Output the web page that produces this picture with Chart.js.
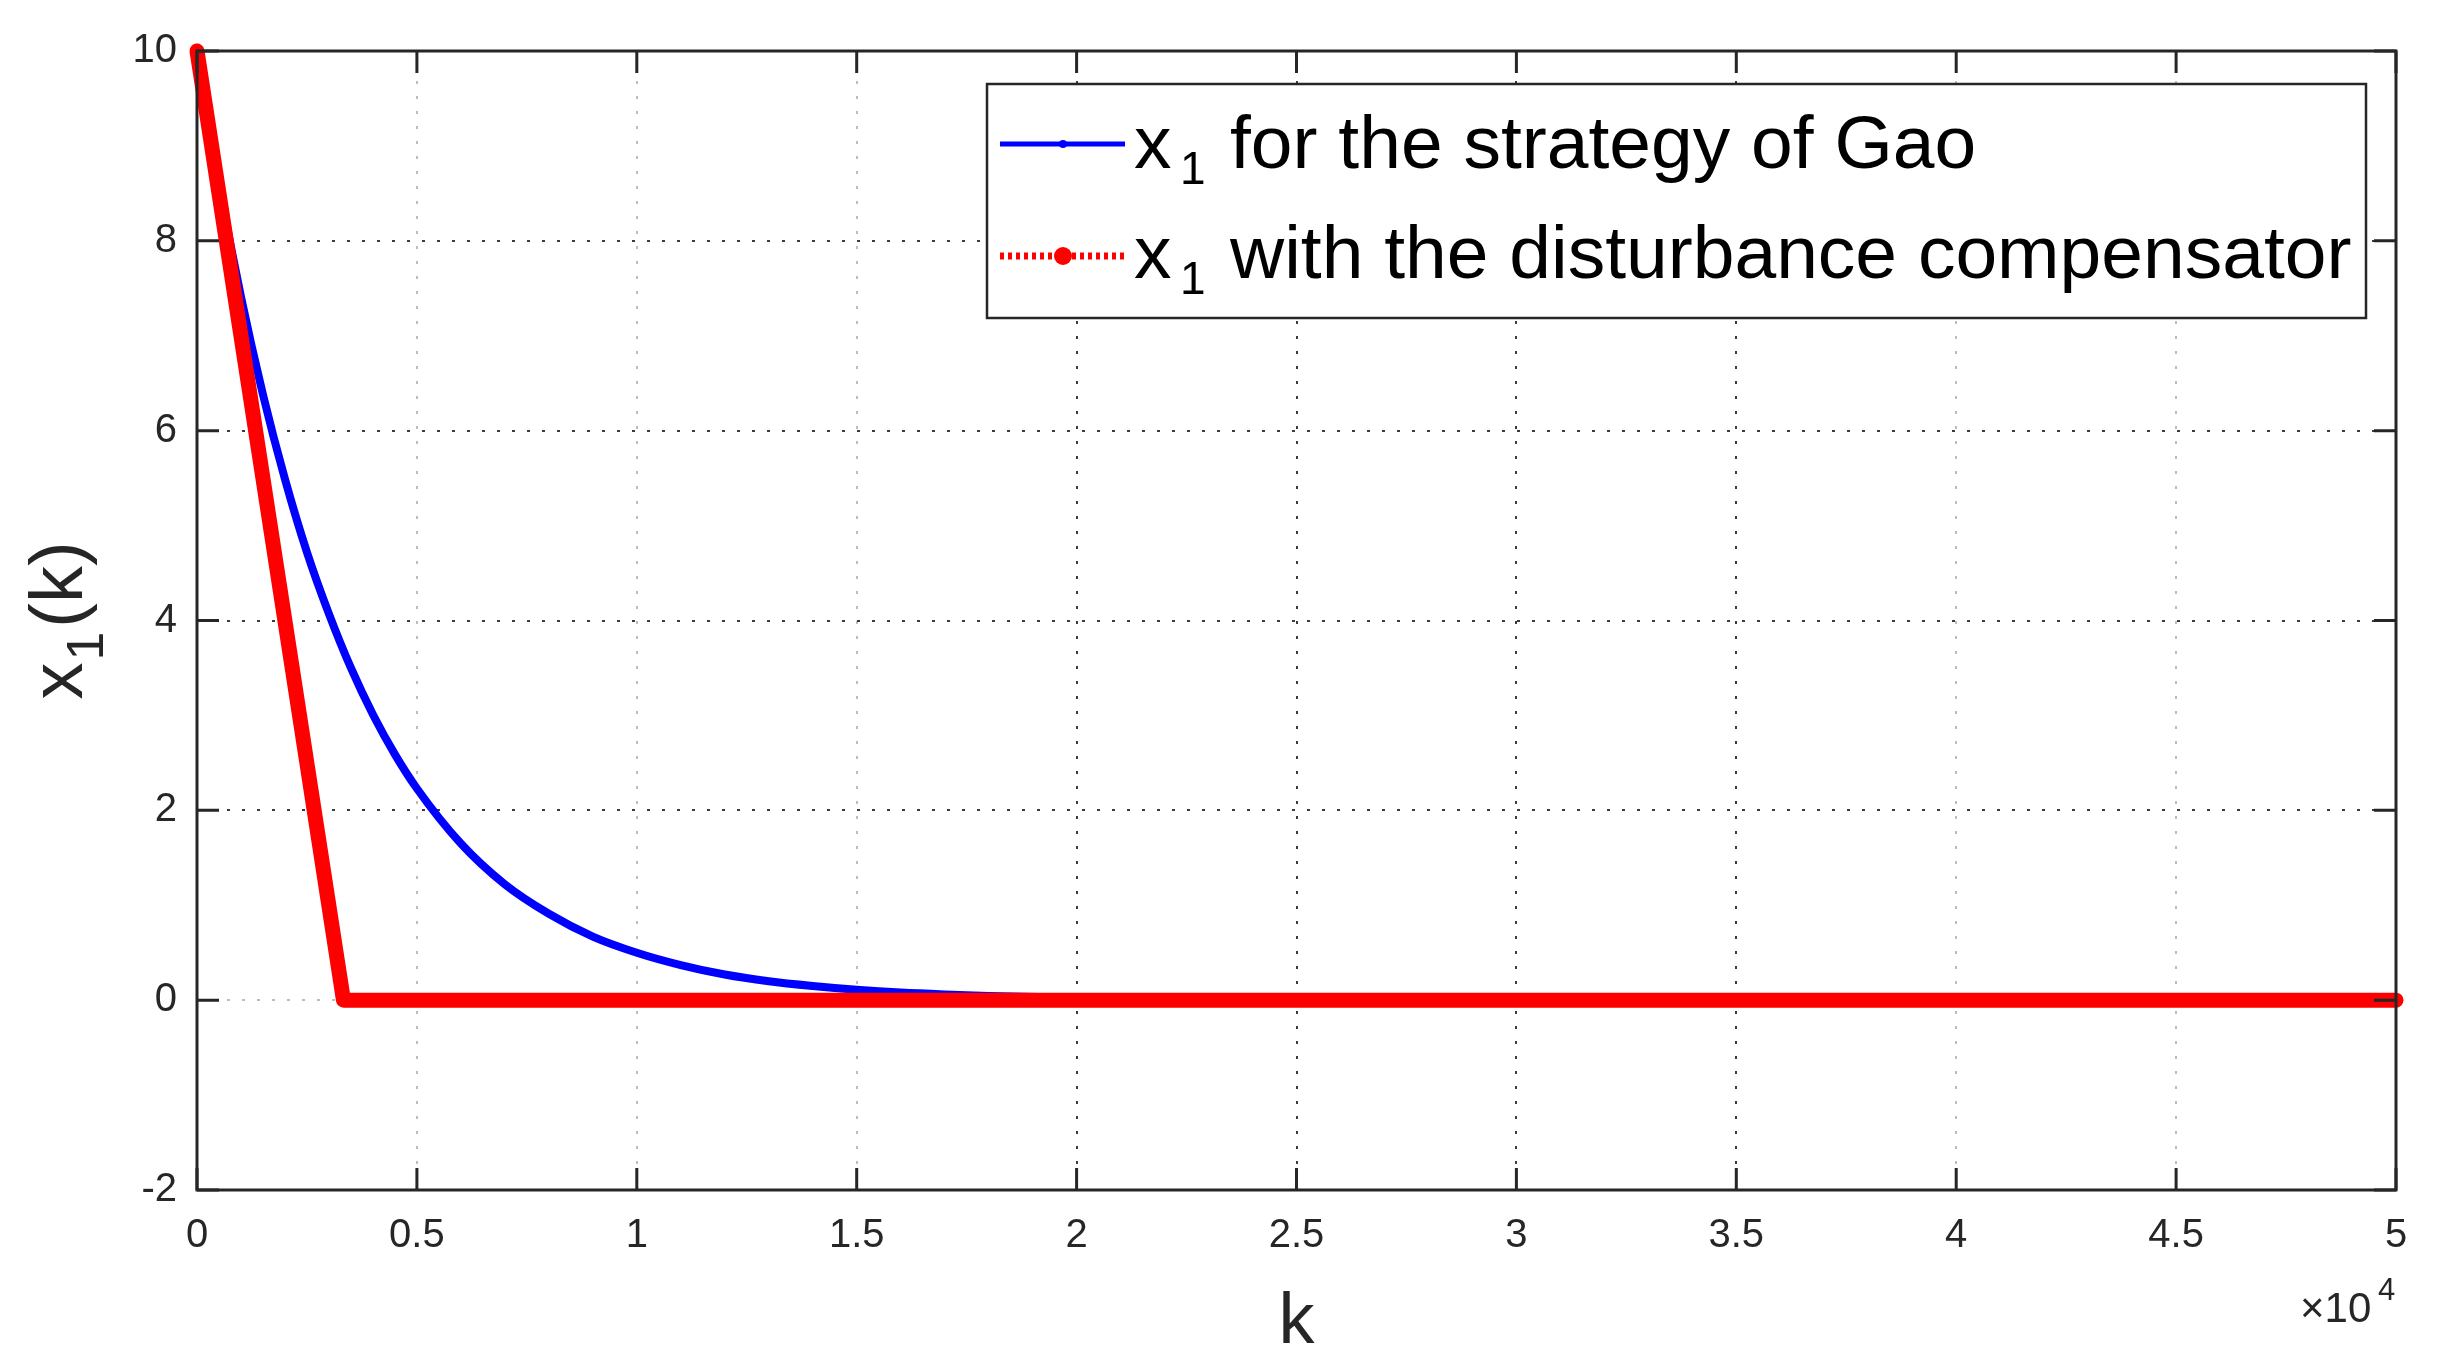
<!DOCTYPE html>
<html>
<head>
<meta charset="utf-8">
<script src="https://cdn.jsdelivr.net/npm/chart.js@4.4.1/dist/chart.umd.min.js"></script>
<style>
  body { margin: 0; background: #fff; }
  #wrap { width: 2444px; height: 1361px; }
</style>
</head>
<body>
<div id="wrap"><canvas id="chart"></canvas></div>
<script>
// k samples and x1 values
var kGao = [0, 500, 1000, 1500, 2000, 2500, 3000, 3500, 4000, 4500, 5000, 6000, 7000, 8000, 9000,
            10000, 11000, 12000, 13000, 14000, 15000, 16000, 17000, 18000, 20000, 25000, 30000, 40000, 50000];
var x1Gao = [10, 8.61, 7.41, 6.38, 5.49, 4.72, 4.07, 3.5, 3.01, 2.59, 2.23, 1.65, 1.22, 0.91, 0.67,
             0.5, 0.37, 0.27, 0.2, 0.15, 0.11, 0.08, 0.06, 0.045, 0.025, 0.005, 0, 0, 0];
var kComp = [0, 3330, 50000];
var x1Comp = [10, 0, 0];

var xTicks = [0, 5000, 10000, 15000, 20000, 25000, 30000, 35000, 40000, 45000, 50000];
var xTickLabels = ['0', '0.5', '1', '1.5', '2', '2.5', '3', '3.5', '4', '4.5', '5'];
var yTicks = [-2, 0, 2, 4, 6, 8, 10];

var FONT = '"Liberation Sans", Arial, sans-serif';
var AX = '#262626';

function pts(xs, ys) {
    return xs.map((x, i) => ({x: x, y: ys[i]}));
}

var frame = {
    id: 'frame',
    afterDatasetsDraw(chart) {
        var ctx = chart.ctx, a = chart.chartArea;
        var sx = chart.scales.x, sy = chart.scales.y;
        ctx.save();
        ctx.strokeStyle = AX;
        ctx.lineWidth = 3;
        ctx.strokeRect(a.left, a.top, a.right - a.left, a.bottom - a.top);
        // inward ticks on all four sides
        var tl = 22;
        ctx.beginPath();
        xTicks.forEach(v => {
            var px = sx.getPixelForValue(v);
            ctx.moveTo(px, a.bottom); ctx.lineTo(px, a.bottom - tl);
            ctx.moveTo(px, a.top); ctx.lineTo(px, a.top + tl);
        });
        yTicks.forEach(v => {
            var py = sy.getPixelForValue(v);
            ctx.moveTo(a.left, py); ctx.lineTo(a.left + tl, py);
            ctx.moveTo(a.right, py); ctx.lineTo(a.right - tl, py);
        });
        ctx.stroke();

        // legend
        var lx = 987, ly = 84, lw = 1379, lh = 234;
        ctx.fillStyle = '#fff';
        ctx.fillRect(lx, ly, lw, lh);
        ctx.lineWidth = 2.5;
        ctx.strokeRect(lx, ly, lw, lh);

        ctx.lineCap = 'butt';
        ctx.strokeStyle = '#0000ff';
        ctx.lineWidth = 5;
        ctx.beginPath(); ctx.moveTo(1000, 144); ctx.lineTo(1125, 144); ctx.stroke();
        ctx.fillStyle = '#0000ff';
        ctx.beginPath(); ctx.arc(1063, 144, 4, 0, Math.PI * 2); ctx.fill();

        ctx.strokeStyle = '#ff0000';
        ctx.lineWidth = 7;
        ctx.setLineDash([4, 4]);
        ctx.beginPath(); ctx.moveTo(1000, 256); ctx.lineTo(1125, 256); ctx.stroke();
        ctx.setLineDash([]);
        ctx.fillStyle = '#ff0000';
        ctx.beginPath(); ctx.arc(1063, 256, 9, 0, Math.PI * 2); ctx.fill();

        ctx.fillStyle = '#000';
        ctx.textBaseline = 'alphabetic';
        ctx.textAlign = 'left';
        [['for the strategy of Gao', 168], ['with the disturbance compensator', 278]].forEach(r => {
            ctx.font = '75px ' + FONT;
            ctx.fillText('x', 1134, r[1]);
            ctx.font = '46px ' + FONT;
            ctx.fillText('1', 1180, r[1] + 16);
            ctx.font = '75px ' + FONT;
            ctx.fillText(r[0], 1230, r[1]);
        });
        ctx.restore();
    },
    afterDraw(chart) {
        var ctx = chart.ctx, a = chart.chartArea;
        ctx.save();
        ctx.fillStyle = AX;
        ctx.textBaseline = 'alphabetic';
        // x title
        ctx.font = '72px ' + FONT;
        ctx.textAlign = 'center';
        ctx.fillText('k', (a.left + a.right) / 2, 1343);
        // exponent label
        ctx.textAlign = 'left';
        ctx.font = '42px ' + FONT;
        ctx.fillText('\u00d710', 2300, 1322);
        ctx.font = '31px ' + FONT;
        ctx.fillText('4', 2378, 1300);
        // y title
        ctx.translate(82, (a.top + a.bottom) / 2);
        ctx.rotate(-Math.PI / 2);
        ctx.font = '74px ' + FONT;
        var w1 = ctx.measureText('x').width;
        var w3 = ctx.measureText('(k)').width;
        ctx.font = '52px ' + FONT;
        var w2 = ctx.measureText('1').width;
        var x0 = -(w1 + w2 + 6 + w3) / 2;
        ctx.font = '74px ' + FONT;
        ctx.fillText('x', x0, 0);
        ctx.font = '52px ' + FONT;
        ctx.fillText('1', x0 + w1 + 2, 21);
        ctx.font = '74px ' + FONT;
        ctx.fillText('(k)', x0 + w1 + w2 + 6, 0);
        ctx.restore();
    }
};

function gridColX(c) {
    var v = c.tick ? c.tick.value : 0;
    return (v >= 20000 && v <= 35000) ? 'rgba(38,38,38,0.9)' : 'rgba(38,38,38,0.3)';
}
function gridColY(c) {
    var v = c.tick ? c.tick.value : 0;
    return (v >= 2 && v <= 8) ? 'rgba(38,38,38,0.9)' : 'rgba(38,38,38,0.3)';
}

new Chart(document.getElementById('chart'), {
    type: 'line',
    data: {
        datasets: [{
            label: 'x1 for the strategy of Gao',
            data: pts(kGao, x1Gao),
            borderColor: '#0000ff',
            borderWidth: 8,
            pointRadius: 0,
            cubicInterpolationMode: 'monotone',
            order: 2,
            clip: false
        }, {
            label: 'x1 with the disturbance compensator',
            data: pts(kComp, x1Comp),
            borderColor: '#ff0000',
            borderWidth: 15,
            borderCapStyle: 'round',
            borderJoinStyle: 'round',
            pointRadius: 0,
            order: 1,
            clip: false
        }]
    },
    options: {
        responsive: true,
        maintainAspectRatio: false,
        animation: false,
        layout: { padding: { left: 0, right: 48, top: 51, bottom: 0 } },
        plugins: { legend: { display: false }, tooltip: { enabled: false } },
        scales: {
            x: {
                type: 'linear',
                min: 0, max: 50000,
                afterBuildTicks: s => { s.ticks = xTicks.map(v => ({value: v})); },
                afterFit: s => { s.height = 171; },
                border: { display: false, dash: [3, 12] },
                grid: { color: gridColX, lineWidth: 2, drawTicks: false },
                ticks: {
                    padding: 22,
                    color: AX,
                    font: { family: FONT, size: 40 },
                    callback: (v) => xTickLabels[xTicks.indexOf(v)]
                }
            },
            y: {
                min: -2, max: 10,
                afterBuildTicks: s => { s.ticks = yTicks.map(v => ({value: v})); },
                afterFit: s => { s.width = 197; },
                border: { display: false, dash: [3, 12] },
                grid: { color: gridColY, lineWidth: 2, drawTicks: false },
                ticks: {
                    padding: 20,
                    color: AX,
                    font: { family: FONT, size: 40 }
                }
            }
        }
    },
    plugins: [frame]
});
</script>
</body>
</html>
